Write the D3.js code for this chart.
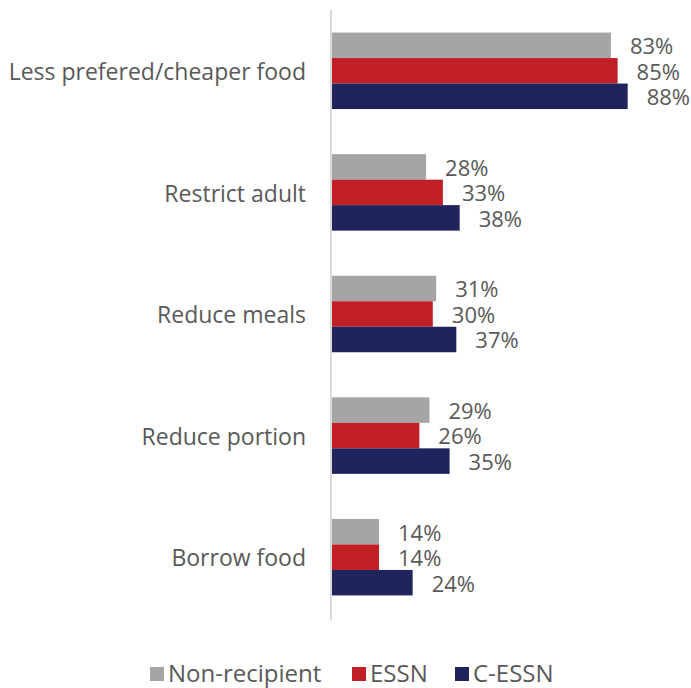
<!DOCTYPE html>
<html>
<head>
<meta charset="utf-8">
<script src="https://cdn.jsdelivr.net/npm/d3@7"></script>
<style>
  html, body { margin: 0; padding: 0; background: #fff; overflow: hidden; }
  svg { display: block; }
  text { font-family: "Open Sans", "Noto Sans", sans-serif; fill: #595959; }
</style>
</head>
<body>
<svg id="chart" width="691" height="688"></svg>
<script>
// Coping strategies by recipient group (% of households)
const categories = ["Less prefered/cheaper food", "Restrict adult", "Reduce meals", "Reduce portion", "Borrow food"];
const seriesNames = ["Non-recipient", "ESSN", "C-ESSN"];
const nonRecipient = [83, 28, 31, 29, 14];
const essn = [85, 33, 30, 26, 14];
const cEssn = [88, 38, 37, 35, 24];
const colors = ["#a5a5a5", "#c01f26", "#1f245c"];

const seriesValues = [nonRecipient, essn, cEssn];
const rows = categories.map((c, i) => ({
  category: c,
  values: seriesNames.map((s, k) => ({ series: s, value: seriesValues[k][i], color: colors[k] }))
}));

const svg = d3.select("#chart");

const x = d3.scaleLinear().domain([0, 100]).range([332, 668]);
const y = d3.scaleBand().domain(categories).range([10, 618]).paddingInner(0.371).paddingOuter(0.1855);
const ySub = d3.scaleBand().domain(seriesNames).range([0, y.bandwidth()]);

// bars
const groups = svg.selectAll("g.group").data(rows).join("g")
  .attr("class", "group")
  .attr("transform", d => `translate(0,${y(d.category)})`);

groups.selectAll("rect").data(d => d.values).join("rect")
  .attr("x", x(0))
  .attr("y", d => ySub(d.series))
  .attr("width", d => x(d.value) - x(0))
  .attr("height", ySub.bandwidth())
  .attr("fill", d => d.color);

// value labels
groups.selectAll("text.val").data(d => d.values).join("text")
  .attr("class", "val")
  .attr("x", d => x(d.value) + 19)
  .attr("y", d => ySub(d.series) + ySub.bandwidth() / 2 + 3)
  .attr("dominant-baseline", "middle")
  .style("font-size", "22px")
  .text(d => d.value + "%");

// category axis
const axis = svg.append("g").attr("transform", `translate(${x(0) - 1},0)`)
  .call(d3.axisLeft(y).tickSize(0).tickPadding(25));
axis.select(".domain").attr("stroke", "#d9d9d9").attr("stroke-width", 2)
  .attr("d", "M0,10V620");
axis.selectAll(".tick text")
  .style("font-size", "23px")
  .style("font-family", "\"Open Sans\", sans-serif")
  .attr("fill", "#595959")
  .attr("dy", "0.4em");

// legend
const legendItems = [
  { name: seriesNames[0], color: colors[0], x: 150 },
  { name: seriesNames[1], color: colors[1], x: 352 },
  { name: seriesNames[2], color: colors[2], x: 455 }
];
const legend = svg.append("g");
const li = legend.selectAll("g").data(legendItems).join("g")
  .attr("transform", d => `translate(${d.x},667)`);
li.append("rect").attr("width", 14).attr("height", 14).attr("fill", d => d.color);
li.append("text").attr("x", 18).attr("y", 15)
  .style("font-size", "24px").text(d => d.name);
</script>
</body>
</html>
